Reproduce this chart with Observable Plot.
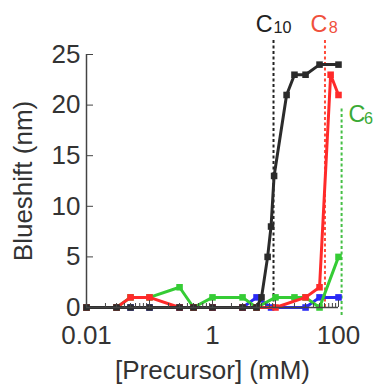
<!DOCTYPE html>
<html><head><meta charset="utf-8">
<script src="https://cdn.jsdelivr.net/npm/d3@7"></script>
<script src="https://cdn.jsdelivr.net/npm/@observablehq/plot@0.6"></script>
<style>html,body{margin:0;padding:0;background:#fff;} svg{display:block;}</style>
</head><body><div id="chart"></div>
<script>
// Data (concentration in mM, blueshift in nm)
const c10Conc  = [0.01,0.03,0.05,0.1,0.3,0.5,1,3,5,6,7.5,8.5,9.5,15,20,30,50,100];
const c10Shift = [0,0,0,0,0,0,0,0,0,1,5,8,13,21,23,23,24,24];
const c8Conc   = [0.01,0.03,0.05,0.1,0.3,0.5,1,3,5,10,30,50,75,100];
const c8Shift  = [0,0,1,1,0,0,0,0,0,0,1,2,23,21];
const c6Conc   = [0.01,0.03,0.05,0.1,0.3,0.5,1,3,5,10,20,30,50,100];
const c6Shift  = [0,0,1,1,2,0,1,1,0,1,1,1,0,5];
const blueConc  = [0.01,0.03,0.05,0.1,0.3,0.5,1,3,5,8.5,30,50,100];
const blueShift = [0,0,0,0,0,0,0,0,1,0,0,1,1];

// critical concentrations (dashed lines) and labels
const cmcNames = ["10","8","6"];
const cmcConc  = [9.3, 61, 112];
const cmcTop   = [26.5, 26.5, 19.8];

const xMajor = [0.01,0.1,1,10,100];
const xLabeled = [0.01,1,100];
const xMinor = [2,3,4,5,6,7,8,9].flatMap(m => [0.01,0.1,1,10].map(d => +(m*d).toPrecision(3)));
const yTicks = [0,5,10,15,20,25];

const colBlack = "#2b2b2b", colRed = "#ff2a2a", colGreen = "#35cc35", colBlue = "#2a2af5";
const txt = "#333333";
const font = "'Liberation Sans', Arial, Helvetica, sans-serif";

const rows = (xs, ys) => xs.map((x, i) => ({x, y: ys[i]}));
const blue = rows(blueConc, blueShift), green = rows(c6Conc, c6Shift),
      red = rows(c8Conc, c8Shift), black = rows(c10Conc, c10Shift);
const cmc = cmcNames.map((n, i) => ({name: n, x: cmcConc[i], top: cmcTop[i]}));

const series = (data, color) => [
  Plot.line(data, {x: "x", y: "y", stroke: color, strokeWidth: 3, strokeLinejoin: "round"}),
  Plot.dot(data, {x: "x", y: "y", symbol: "square", r: 3.7, fill: color, stroke: "none"})
];

const chart = Plot.plot({
  width: 376, height: 385,
  marginLeft: 86, marginRight: 38, marginTop: 54, marginBottom: 78,
  style: {fontFamily: font, color: txt, background: "#fff", overflow: "visible"},
  x: {type: "log", domain: [0.01, 100], axis: null},
  y: {domain: [0, 25], axis: null},
  marks: [
    // dashed critical lines
    Plot.ruleX([cmc[0]], {x: "x", y1: 0, y2: "top", stroke: "#222", strokeWidth: 2, strokeDasharray: "3,2.5"}),
    Plot.ruleX([cmc[1]], {x: "x", y1: 0, y2: "top", stroke: "#ff4a3a", strokeWidth: 2, strokeDasharray: "3,2.5"}),
    Plot.ruleX([cmc[2]], {x: "x", y1: -0.8, y2: "top", stroke: "#45bf45", strokeWidth: 2, strokeDasharray: "3,2.5"}),
    ...series(blue, colBlue),
    ...series(green, colGreen),
    ...series(red, colRed),
    ...series(black, colBlack),
    // axes lines
    Plot.ruleX([0.01], {y1: 0, y2: 25, stroke: "#444", strokeWidth: 1.5}),
    Plot.ruleY([0], {x1: 0.01, x2: 100, stroke: "#444", strokeWidth: 1.5}),
    Plot.axisY(yTicks, {anchor: "left", tickSize: -7, tickPadding: 13, fontSize: 26, stroke: "#444", fill: txt, label: null}),
    Plot.axisX(xMajor, {anchor: "bottom", tickSize: -7, tickPadding: 25, fontSize: 26, stroke: "#444", fill: txt, label: null,
      tickFormat: d => xLabeled.includes(d) ? (d < 1 ? String(d) : d3.format("d")(d)) : ""}),
    Plot.axisX(xMinor, {anchor: "bottom", tickSize: -4, stroke: "#444", label: null, tickFormat: () => ""}),
    // axis titles
    Plot.text(["Blueshift (nm)"], {frameAnchor: "left", dx: -63, rotate: -90, fontSize: 26, fill: txt, textAnchor: "middle", lineAnchor: "middle"}),
    Plot.text(["[Precursor] (mM)"], {frameAnchor: "bottom", dy: 71, fontSize: 26, fill: txt, textAnchor: "middle", lineAnchor: "bottom"}),
    // labels
    Plot.text([cmc[0]], {x: "x", y: 27.2, text: () => "C", fontSize: 23.3, fill: "#222", textAnchor: "end", lineAnchor: "bottom", dx: -1}),
    Plot.text([cmc[0]], {x: "x", y: 27.2, text: "name", fontSize: 16.2, fill: "#222", textAnchor: "start", lineAnchor: "bottom", dx: 0, dy: 0.6}),
    Plot.text([cmc[1]], {x: "x", y: 27.2, text: () => "C", fontSize: 23.3, fill: "#f0503c", textAnchor: "end", lineAnchor: "bottom", dx: 2.4}),
    Plot.text([cmc[1]], {x: "x", y: 27.2, text: "name", fontSize: 16.2, fill: "#f0503c", textAnchor: "start", lineAnchor: "bottom", dx: 3.7, dy: 0.6}),
    Plot.text([cmc[2]], {x: "x", y: 18.3, text: () => "C", fontSize: 23.3, fill: "#3aaa35", textAnchor: "start", lineAnchor: "bottom", dx: 7}),
    Plot.text([cmc[2]], {x: "x", y: 18.3, text: "name", fontSize: 16.2, fill: "#3aaa35", textAnchor: "start", lineAnchor: "bottom", dx: 22.3, dy: 1.3})
  ]
});
document.getElementById("chart").appendChild(chart);
</script>
</body></html>
